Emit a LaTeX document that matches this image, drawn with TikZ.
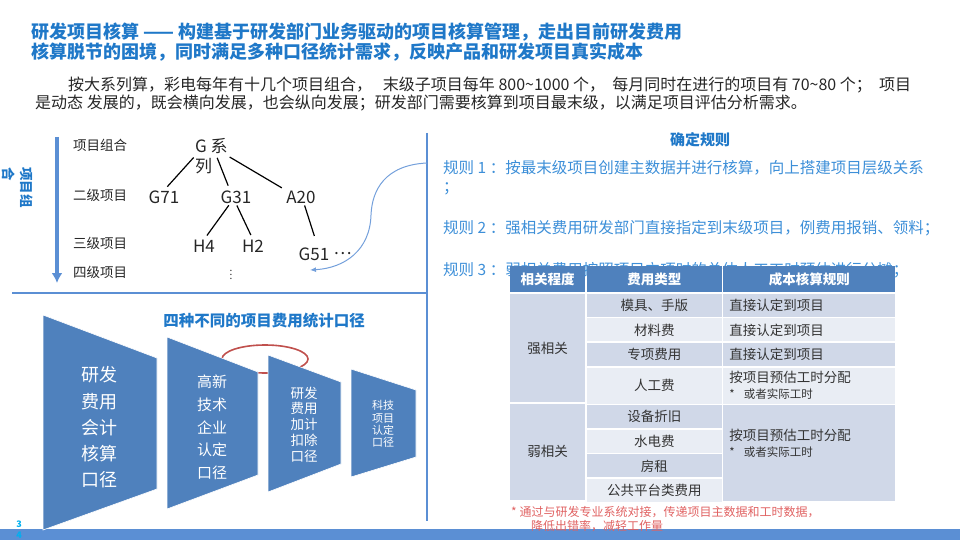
\documentclass[tikz,border=0pt]{standalone}
\usepackage{fontspec}
\setmainfont{Noto Sans CJK SC}
\usetikzlibrary{arrows.meta, positioning}
\definecolor{ttlblue}{HTML}{1F78C8}
\definecolor{ruleblue}{HTML}{3D8FD8}
\definecolor{lineblue}{HTML}{5B8FD4}
\definecolor{hdblue}{HTML}{4F81BD}
\definecolor{rowdark}{HTML}{D0D8E8}
\definecolor{rowlight}{HTML}{E9EDF4}
\definecolor{notered}{HTML}{E06262}
\definecolor{ringred}{HTML}{C0504D}
\definecolor{pagecyan}{HTML}{00B0F0}
\newcommand\fsz[2]{\fontsize{#1}{#2}\selectfont}

\begin{document}
\begin{tikzpicture}[x=1pt, y=-1pt,
      node distance = 1.2pt,
      txt/.style  = {inner sep=0, text=black!85},
      lvl/.style  = {txt, anchor=west, font=\fsz{13.5}{16}},
      lbl/.style  = {txt, font=\fsz{17}{20}},
      tie/.style  = {line width=1.2pt, shorten <=2pt, shorten >=5pt},
      rl/.style   = {inner sep=0, anchor=west, align=left, text=ruleblue, font=\fsz{15.5}{19}},
      hd/.style   = {inner sep=0, fill=hdblue, text=white, minimum height=26pt,
                     font=\fsz{13.5}{16}\bfseries},
      cell/.style = {inner sep=0, minimum width=135pt, minimum height=23pt,
                     text=black!80, font=\fsz{13.5}{16}},
      rcell/.style= {cell, text width=160pt, inner xsep=6pt, align=left},
      funnel/.style = {fill=hdblue, draw=white, line width=0.6pt},
      ftxt/.style = {inner sep=0, text=white, align=center},
      >={Latex[length=10pt,width=11pt]}
    ]
    \useasboundingbox (0,0) rectangle (960,540);
    % kopf
    \node[inner sep=0, anchor=west, align=left, text=ttlblue, font=\fsz{18}{20}\bfseries] (title)
      at (31,42) {研发项目核算 —— 构建基于研发部门业务驱动的项目核算管理，走出目前研发费用\\
                  核算脱节的困境，同时满足多种口径统计需求，反映产品和研发项目真实成本};
    \node[txt, anchor=west, align=left, font=\fsz{16}{18}] (intro) at (35,94)
      {\hspace*{33pt}按大系列算，彩电每年有十几个项目组合，\ \ \ 末级子项目每年 800\textasciitilde1000 个，\ \ 每月同时在进行的项目有 70\textasciitilde80 个；\ \ 项目\\
       是动态 发展的，既会横向发展，也会纵向发展；研发部门需要核算到项目最末级，以满足项目评估分析需求。};
    % hierarchie
    \coordinate (axtop) at (57,137);
    \coordinate (axbot) at (57,283);
    \draw[->, lineblue, line width=3.5pt] (axtop) -- (axbot);
    \node[rotate=-90, anchor=north west, align=left, inner sep=0, text=ttlblue,
          font=\fsz{13.5}{18}\bfseries] (grp) at (33,167) {项目组\\合};
    \node[lvl] (l1) at (73,145) {项目组合};
    \node[lvl] (l2) at (73,195) {二级项目};
    \node[lvl] (l3) at (73,243) {三级项目};
    \node[lvl] (l4) at (73,272) {四级项目};
    \node[lbl, anchor=west, align=left] (gser) at (195,156) {G 系\\列};
    \node[lbl] (g71) at (164,197) {G71};
    \node[lbl] (g31) at (236,197) {G31};
    \node[lbl] (a20) at (301,197) {A20};
    \node[lbl] (h4)  at (204,246) {H4};
    \node[lbl] (h2)  at (253,246) {H2};
    \node[lbl] (g51) at (314,254) {G51};
    \node[lbl, right=4pt of g51] (more) {…};
    \node[txt, font=\fsz{10}{12}] (vdots) at (231,272) {$\vdots$};
    \draw[tie] (gser.west) -- (g71.north);
    \draw[tie] ([xshift=5pt]gser.center) -- ([xshift=-6pt]g31.north);
    \draw[tie] (gser.east) -- (a20.north west);
    \draw[tie] ([xshift=-6pt]g31.south) -- (h4.north);
    \draw[tie] (g31.south) -- (h2.north);
    \draw[tie, shorten >=12pt] ([xshift=3pt]a20.south) -- ([xshift=4pt]g51.north);
    % trennlinien
    \coordinate (hl) at (12,293);
    \coordinate (hr) at (426,293);
    \coordinate (vt) at (427,133);
    \coordinate (vb) at (427,521);
    \draw[lineblue, line width=2.5pt] (hl) -- (hr);
    \draw[lineblue, line width=2.5pt] (vt) -- (vb);
    \coordinate (hook) at (427,163);
    \coordinate (hookend) at (310,270);
    \draw[->, lineblue!85, line width=1pt, >={Latex[length=6pt,width=5pt]}]
      (hook) .. controls (385,165) and (372,190) .. (371,215)
             .. controls (370,250) and (345,268) .. (hookend);
    % regeln
    \node[inner sep=0, text=ttlblue, font=\fsz{15}{18}\bfseries] (rtitle) at (700,140) {确定规则};
    \node[rl] (rule1) at (443,178) {规则 1 ：按最末级项目创建主数据并进行核算，向上搭建项目层级关系\\；};
    \node[rl] (rule2) at (443,228) {规则 2 ：强相关费用研发部门直接指定到末级项目，例费用报销、领料；};
    \node[rl] (rule3) at (443,270) {规则 3 ：弱相关费用按照项目立项时的总体人工工时预估进行分摊；};
    % tabelle
    \node[hd, minimum width=75pt, anchor=north west] (h1) at (510,266) {相关程度};
    \node[hd, minimum width=135pt, right=of h1] (h2c) {费用类型};
    \node[hd, minimum width=172pt, right=of h2c] (h3) {成本核算规则};
    \node[cell, fill=rowdark, minimum width=75pt, minimum height=108.6pt, below=of h1] (s1) {强相关};
    \node[cell, fill=rowdark, minimum width=75pt, minimum height=95.6pt, below=of s1] (w1) {弱相关};
    \node[cell, fill=rowdark,  below=of h2c] (r1) {模具、手版};
    \node[cell, fill=rowlight, below=of r1] (r2) {材料费};
    \node[cell, fill=rowdark,  below=of r2] (r3) {专项费用};
    \node[cell, fill=rowlight, minimum height=36pt, below=of r3] (r4) {人工费};
    \node[cell, fill=rowdark,  below=of r4] (r5) {设备折旧};
    \node[cell, fill=rowlight, below=of r5] (r6) {水电费};
    \node[cell, fill=rowdark,  below=of r6] (r7) {房租};
    \node[cell, fill=rowlight, below=of r7] (r8) {公共平台类费用};
    \node[rcell, fill=rowdark,  below=of h3] (t1) {直接认定到项目};
    \node[rcell, fill=rowlight, below=of t1] (t2) {直接认定到项目};
    \node[rcell, fill=rowdark,  below=of t2] (t3) {直接认定到项目};
    \node[rcell, fill=rowlight, minimum height=36pt, below=of t3] (t4)
      {按项目预估工时分配\\{\fsz{11.5}{14}*\ \ 或者实际工时}};
    \node[rcell, fill=rowdark, minimum height=95.6pt, below=of t4] (tw) {};
    \node[rcell, minimum height=0pt] (twtxt) at ([yshift=10pt]tw.center)
      {按项目预估工时分配\\{\fsz{11.5}{14}*\ \ 或者实际工时}};
    % fusszeile
    \fill[lineblue] (0,529) rectangle (960,540);
    \node[inner sep=0, anchor=west, align=left, text=notered, font=\fsz{12}{14}] (note) at (511,519)
      {* 通过与研发专业系统对接，传递项目主数据和工时数据，\\\hspace*{20pt}降低出错率，减轻工作量};
    \node[inner sep=0, align=center, text=pagecyan, font=\fsz{9}{11}\bfseries] (page) at (19,530) {3\\4};
    % vier kaliber
    \node[inner sep=0, text=ttlblue, font=\fsz{15.5}{18}\bfseries] (ktitle) at (264,321) {四种不同的项目费用统计口径};
    \draw[ringred, line width=1.6pt] (265,359) ellipse [x radius=43pt, y radius=14pt];
    \fill[funnel] (43,315) -- (157,358) -- (157,489) -- (43,530) -- cycle;
    \fill[funnel] (167,337) -- (258,372) -- (258,475) -- (167,509) -- cycle;
    \fill[funnel] (268,355) -- (341,382) -- (341,464) -- (268,492) -- cycle;
    \fill[funnel] (351,369) -- (416,390) -- (416,457) -- (351,477) -- cycle;
    \node[ftxt, font=\fsz{18}{26.2}] (cw1) at (99,427.5) {研发\\费用\\会计\\核算\\口径};
    \node[ftxt, font=\fsz{15}{22.75}] (cw2) at (212,427.5) {高新\\技术\\企业\\认定\\口径};
    \node[ftxt, font=\fsz{13.5}{15.75}] (cw3) at (304,424.5) {研发\\费用\\加计\\扣除\\口径};
    \node[ftxt, font=\fsz{11}{12.3}] (cw4) at (383,424) {科技\\项目\\认定\\口径};
  \end{tikzpicture}
\end{document}
